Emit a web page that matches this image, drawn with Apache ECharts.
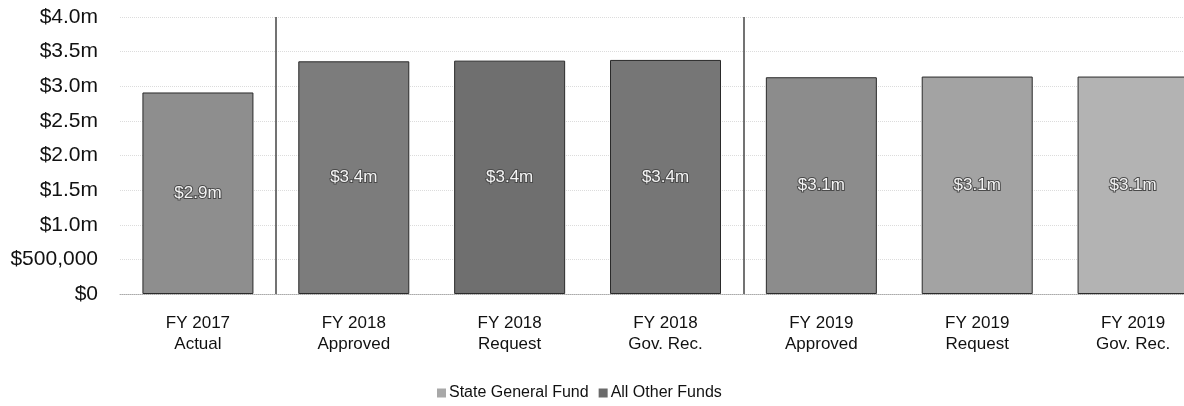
<!DOCTYPE html>
<html>
<head>
<meta charset="utf-8">
<title>Funding by fiscal year</title>
<script src="https://cdn.jsdelivr.net/npm/echarts@6/dist/echarts.min.js"></script>
<style>
    html, body { margin: 0; padding: 0; background: #fff; }
    #chart { width: 1184px; height: 406px; }
</style>
</head>
<body>
<div id="chart"></div>
<script>
// ==============================================
// DATOS
// ==============================================

const categorias = [
    "FY 2017\nActual",
    "FY 2018\nApproved",
    "FY 2018\nRequest",
    "FY 2018\nGov. Rec.",
    "FY 2019\nApproved",
    "FY 2019\nRequest",
    "FY 2019\nGov. Rec."
];

// millones de dólares
const fondoGeneral = [0, 0, 0, 0, 0, 0, 0];
const otrosFondos = [2.91, 3.36, 3.37, 3.38, 3.13, 3.14, 3.14];

const ejeTicks = [0, 0.5, 1, 1.5, 2, 2.5, 3, 3.5, 4];

// tonos de gris de cada barra (escaneo)
const grises = ['#8e8e8e', '#7c7c7c', '#6f6f6f', '#767676', '#8c8c8c', '#a3a3a3', '#b3b3b3'];

// ==============================================
// GRÁFICO
// ==============================================

function formatoEje(v) {
    if (v === 0) return '$0';
    if (v === 0.5) return '$500,000';
    return '$' + v.toFixed(1) + 'm';
}

const chart = echarts.init(document.getElementById('chart'));

const option = {
    animation: false,
    textStyle: { fontFamily: 'Liberation Sans, Arial, sans-serif' },
    grid: {
        left: 120,
        width: 1091,   // la última columna queda cortada por el borde, como en el original
        top: 17,
        bottom: 112,
        outerBoundsMode: 'none'
    },
    legend: {
        data: ['State General Fund', 'All Other Funds'],
        left: 432,
        top: 380,
        icon: 'rect',
        itemWidth: 9,
        itemHeight: 9,
        itemGap: 10,
        textStyle: { fontSize: 16, color: '#111', padding: [0, 0, 0, -2] }
    },
    xAxis: {
        type: 'category',
        data: categorias,
        axisLine: { show: true, lineStyle: { color: '#aaa', type: 'dotted' } },
        axisTick: { show: false },
        axisLabel: {
            fontSize: 17,
            color: '#111',
            lineHeight: 21,
            margin: 19,
            interval: 0
        },
        splitLine: {
            show: true,
            interval: function (idx) { return idx === 1 || idx === 4; },
            lineStyle: { color: '#444', width: 1.5, type: 'solid' }
        }
    },
    yAxis: {
        type: 'value',
        min: ejeTicks[0],
        max: ejeTicks[ejeTicks.length - 1],
        interval: 0.5,
        axisLine: { show: false },
        axisTick: { show: false },
        axisLabel: {
            fontSize: 21,
            color: '#111',
            margin: 22,
            formatter: formatoEje
        },
        splitLine: {
            show: true,
            lineStyle: { color: '#dcdcdc', type: 'dotted' }
        }
    },
    series: [
        {
            name: 'State General Fund',
            type: 'bar',
            stack: 'total',
            barWidth: 111,
            itemStyle: { color: '#a8a8a8' },
            data: fondoGeneral
        },
        {
            name: 'All Other Funds',
            type: 'bar',
            stack: 'total',
            barWidth: 111,
            itemStyle: { color: '#6a6a6a' },
            data: otrosFondos.map((v, i) => ({
                value: v,
                itemStyle: { color: grises[i], borderColor: '#2a2a2a', borderWidth: 1 }
            })),
            label: {
                show: true,
                position: 'inside',
                fontSize: 17,
                color: '#f4f4f4',
                textBorderColor: '#4a4a4a',
                textBorderWidth: 2,
                formatter: p => '$' + p.value.toFixed(1) + 'm'
            }
        }
    ]
};

chart.setOption(option);
</script>
</body>
</html>
